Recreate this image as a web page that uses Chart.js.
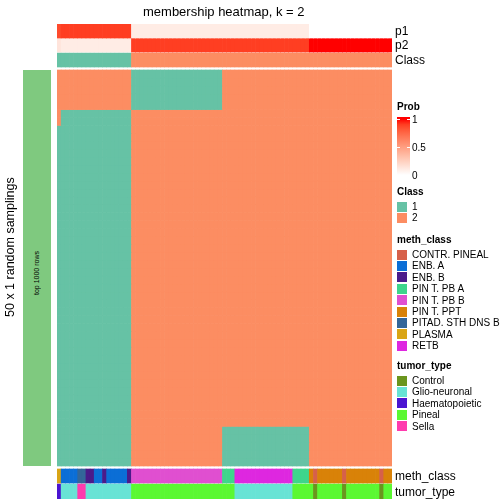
<!DOCTYPE html>
<html>
<head>
<meta charset="utf-8">
<script src="https://cdn.jsdelivr.net/npm/chart.js@4.4.0/dist/chart.umd.min.js"></script>
<style>
body{margin:0;background:#fff;font-family:"Liberation Sans",Arial,sans-serif;}
#wrap{position:relative;width:504px;height:504px;overflow:hidden;background:#fff;}
#heat{position:absolute;left:0;top:0;}
.t{position:absolute;white-space:nowrap;color:#000;line-height:1;transform:translateY(-50%);}
.vert{position:absolute;white-space:nowrap;color:#000;font-weight:normal;writing-mode:vertical-rl;transform:rotate(180deg);text-align:center;}
.box{position:absolute;width:10px;height:10px;}
.lt{position:absolute;white-space:nowrap;font-size:10px;line-height:1;transform:translateY(-50%);}
.lh{position:absolute;white-space:nowrap;font-size:10px;font-weight:bold;line-height:1;transform:translateY(-50%);}
</style>
</head>
<body>
<div id="wrap">
  <canvas id="heat" width="504" height="504"></canvas>
  <div class="t" style="left:143px;top:11px;font-size:13px;">membership heatmap, k = 2</div>
  <div class="t" style="left:395px;top:31px;font-size:12px;">p1</div>
  <div class="t" style="left:395px;top:45px;font-size:12px;">p2</div>
  <div class="t" style="left:395px;top:60px;font-size:12px;">Class</div>
  <div class="t" style="left:395px;top:476px;font-size:12px;">meth_class</div>
  <div class="t" style="left:395px;top:492px;font-size:12px;">tumor_type</div>
  <div style="position:absolute;left:23px;top:70px;width:28px;height:396px;background:#7FC97F;"></div>
  <div class="vert" style="left:33px;top:123px;height:300px;width:8px;line-height:8px;font-size:7px;">top 1000 rows</div>
  <div class="vert" style="left:3px;top:97px;height:300px;width:14px;line-height:14px;font-size:12.5px;">50 x 1 random samplings</div>
  <div id="legends"></div>
</div>
<script>
// per-sample values, written as runs of [value, number of samples], left to right
var p1Runs = [[0.86, 1], [0.9, 17], [0.1, 43], [0, 20]];
var p2Runs = [[0.14, 1], [0.1, 17], [0.9, 43], [1, 20]];
var classRuns = [[1, 18], [2, 63]];
var methRuns = [
    ["PLASMA", 1], ["ENB. A", 4], ["PITAD. STH DNS B", 2], ["ENB. B", 2], ["ENB. A", 2],
    ["ENB. B", 1], ["ENB. A", 5], ["ENB. B", 1], ["PIN T. PB B", 22], ["PIN T. PB A", 3],
    ["RETB", 14], ["PIN T. PB A", 4], ["PIN T. PPT", 1], ["CONTR. PINEAL", 1], ["PIN T. PPT", 6],
    ["CONTR. PINEAL", 1], ["PIN T. PPT", 8], ["CONTR. PINEAL", 1], ["PIN T. PPT", 2]
];
var tumorRuns = [
    ["Haematopoietic", 1], ["Glio-neuronal", 4], ["Sella", 2], ["Glio-neuronal", 11], ["Pineal", 25],
    ["Glio-neuronal", 14], ["Pineal", 5], ["Control", 1], ["Pineal", 6], ["Control", 1],
    ["Pineal", 8], ["Control", 1], ["Pineal", 2]
];

// the 50 random samplings: distinct row patterns (class runs) and how many rows each
var rowPatterns = [
    [[2, 18], [1, 22], [2, 41]],
    [[2, 1], [1, 17], [2, 63]],
    [[1, 18], [2, 63]],
    [[1, 18], [2, 22], [1, 21], [2, 20]]
];
var rowRepeats = [5, 2, 38, 5];

var classLabels = ["1", "2"];
var methLabels = ["CONTR. PINEAL", "ENB. A", "ENB. B", "PIN T. PB A", "PIN T. PB B", "PIN T. PPT", "PITAD. STH DNS B", "PLASMA", "RETB"];
var tumorLabels = ["Control", "Glio-neuronal", "Haematopoietic", "Pineal", "Sella"];
var probTicks = ["1", "0.5", "0"];

var classColors = {1: "#66C2A5", 2: "#FC8D62"};
var methColors = {
    "CONTR. PINEAL": "#D6604A", "ENB. A": "#0B6ED6", "ENB. B": "#4B1A8A", "PIN T. PB A": "#3ED58C",
    "PIN T. PB B": "#E04FD0", "PIN T. PPT": "#D98208", "PITAD. STH DNS B": "#336699",
    "PLASMA": "#D9A516", "RETB": "#DE27E0"
};
var tumorColors = {
    "Control": "#6B951E", "Glio-neuronal": "#68E3D5", "Haematopoietic": "#4B14D1",
    "Pineal": "#5BF832", "Sella": "#FF3BAE"
};

function expand(runs) {
    var out = [];
    runs.forEach(function (r) {
        for (var i = 0; i < r[1]; i++) out.push(r[0]);
    });
    return out;
}

// white -> red in Lab space
function toLin(c) { c /= 255; return c <= 0.04045 ? c / 12.92 : Math.pow((c + 0.055) / 1.055, 2.4); }
function fromLin(c) { c = c <= 0.0031308 ? 12.92 * c : 1.055 * Math.pow(c, 1 / 2.4) - 0.055; return Math.max(0, Math.min(255, Math.round(c * 255))); }
function rgbToLab(rgb) {
    var r = toLin(rgb[0]), g = toLin(rgb[1]), b = toLin(rgb[2]);
    var x = (0.4124 * r + 0.3576 * g + 0.1805 * b) / 0.95047;
    var y = (0.2126 * r + 0.7152 * g + 0.0722 * b);
    var z = (0.0193 * r + 0.1192 * g + 0.9505 * b) / 1.08883;
    var f = function (t) { return t > 0.008856 ? Math.cbrt(t) : 7.787 * t + 16 / 116; };
    return [116 * f(y) - 16, 500 * (f(x) - f(y)), 200 * (f(y) - f(z))];
}
function labToRgb(lab) {
    var fy = (lab[0] + 16) / 116, fx = fy + lab[1] / 500, fz = fy - lab[2] / 200;
    var inv = function (t) { return t > 0.206893 ? t * t * t : (t - 16 / 116) / 7.787; };
    var x = inv(fx) * 0.95047, y = inv(fy), z = inv(fz) * 1.08883;
    var r = 3.2406 * x - 1.5372 * y - 0.4986 * z;
    var g = -0.9689 * x + 1.8758 * y + 0.0415 * z;
    var b = 0.0557 * x - 0.2040 * y + 1.0570 * z;
    return "rgb(" + fromLin(r) + "," + fromLin(g) + "," + fromLin(b) + ")";
}
var labWhite = rgbToLab([255, 255, 255]), labRed = rgbToLab([255, 0, 0]);
function probColor(p) {
    return labToRgb([0, 1, 2].map(function (k) { return labWhite[k] + (labRed[k] - labWhite[k]) * p; }));
}

var p1 = expand(p1Runs), p2 = expand(p2Runs), cls = expand(classRuns);
var meth = expand(methRuns), tumor = expand(tumorRuns);
var samples = cls.map(function (c, i) { return "s" + (i + 1); });

var rows = [];
rowPatterns.forEach(function (pat, k) {
    for (var i = 0; i < rowRepeats[k]; i++) rows.push(expand(pat));
});

function track(from, to, colors) {
    return {
        data: samples.map(function () { return [from, to]; }),
        backgroundColor: colors
    };
}

var datasets = [];
datasets.push(track(0, 14, p1.map(probColor)));
datasets.push(track(14, 28, p2.map(probColor)));
datasets.push(track(29, 43, cls.map(function (c) { return classColors[c]; })));
var rowH = 396 / rows.length;
rows.forEach(function (row, i) {
    datasets.push(track(46 + i * rowH, 46 + (i + 1) * rowH, row.map(function (c) { return classColors[c]; })));
});
datasets.push(track(445, 459, meth.map(function (m) { return methColors[m]; })));
datasets.push(track(460, 475, tumor.map(function (t) { return tumorColors[t]; })));

new Chart(document.getElementById('heat'), {
    type: 'bar',
    data: {labels: samples, datasets: datasets},
    options: {
        responsive: false,
        animation: false,
        layout: {padding: {left: 57, right: 112, top: 24, bottom: 5}},
        datasets: {bar: {grouped: false, barPercentage: 1, categoryPercentage: 1, borderWidth: 0}},
        plugins: {legend: {display: false}, tooltip: {enabled: false}},
        scales: {
            x: {display: false},
            y: {display: false, min: 0, max: 475, reverse: true}
        }
    }
});

// legends on the right
var lg = document.getElementById('legends');
function add(html) { lg.insertAdjacentHTML('beforeend', html); }

add('<div class="lh" style="left:397px;top:107px;">Prob</div>');
var stops = [];
for (var s = 0; s <= 10; s++) stops.push(probColor(1 - s / 10) + ' ' + (s * 10) + '%');
add('<div style="position:absolute;left:397px;top:117px;width:13px;height:2px;background:' + probColor(1) + ';"></div>');
add('<div style="position:absolute;left:397px;top:119px;width:13px;height:56px;background:linear-gradient(to bottom,' + stops.join(',') + ');"></div>');
probTicks.forEach(function (t, i) {
    var y = 119 + i * 28;
    add('<div style="position:absolute;left:397px;top:' + y + 'px;width:3px;height:1px;background:#fff;"></div>');
    add('<div style="position:absolute;left:407px;top:' + y + 'px;width:3px;height:1px;background:#fff;"></div>');
    add('<div class="lt" style="left:412px;top:' + (y + 1) + 'px;">' + t + '</div>');
});

function legendGroup(title, labels, colors, titleY) {
    add('<div class="lh" style="left:397px;top:' + titleY + 'px;">' + title + '</div>');
    labels.forEach(function (l, i) {
        var y = titleY + 14.5 + i * 11.4;
        add('<div class="box" style="left:397px;top:' + (y - 5) + 'px;background:' + colors[l] + ';"></div>');
        add('<div class="lt" style="left:412px;top:' + (y + 0.5) + 'px;">' + l + '</div>');
    });
}
legendGroup("Class", classLabels, classColors, 192);
legendGroup("meth_class", methLabels, methColors, 240);
legendGroup("tumor_type", tumorLabels, tumorColors, 366);
</script>
</body>
</html>
